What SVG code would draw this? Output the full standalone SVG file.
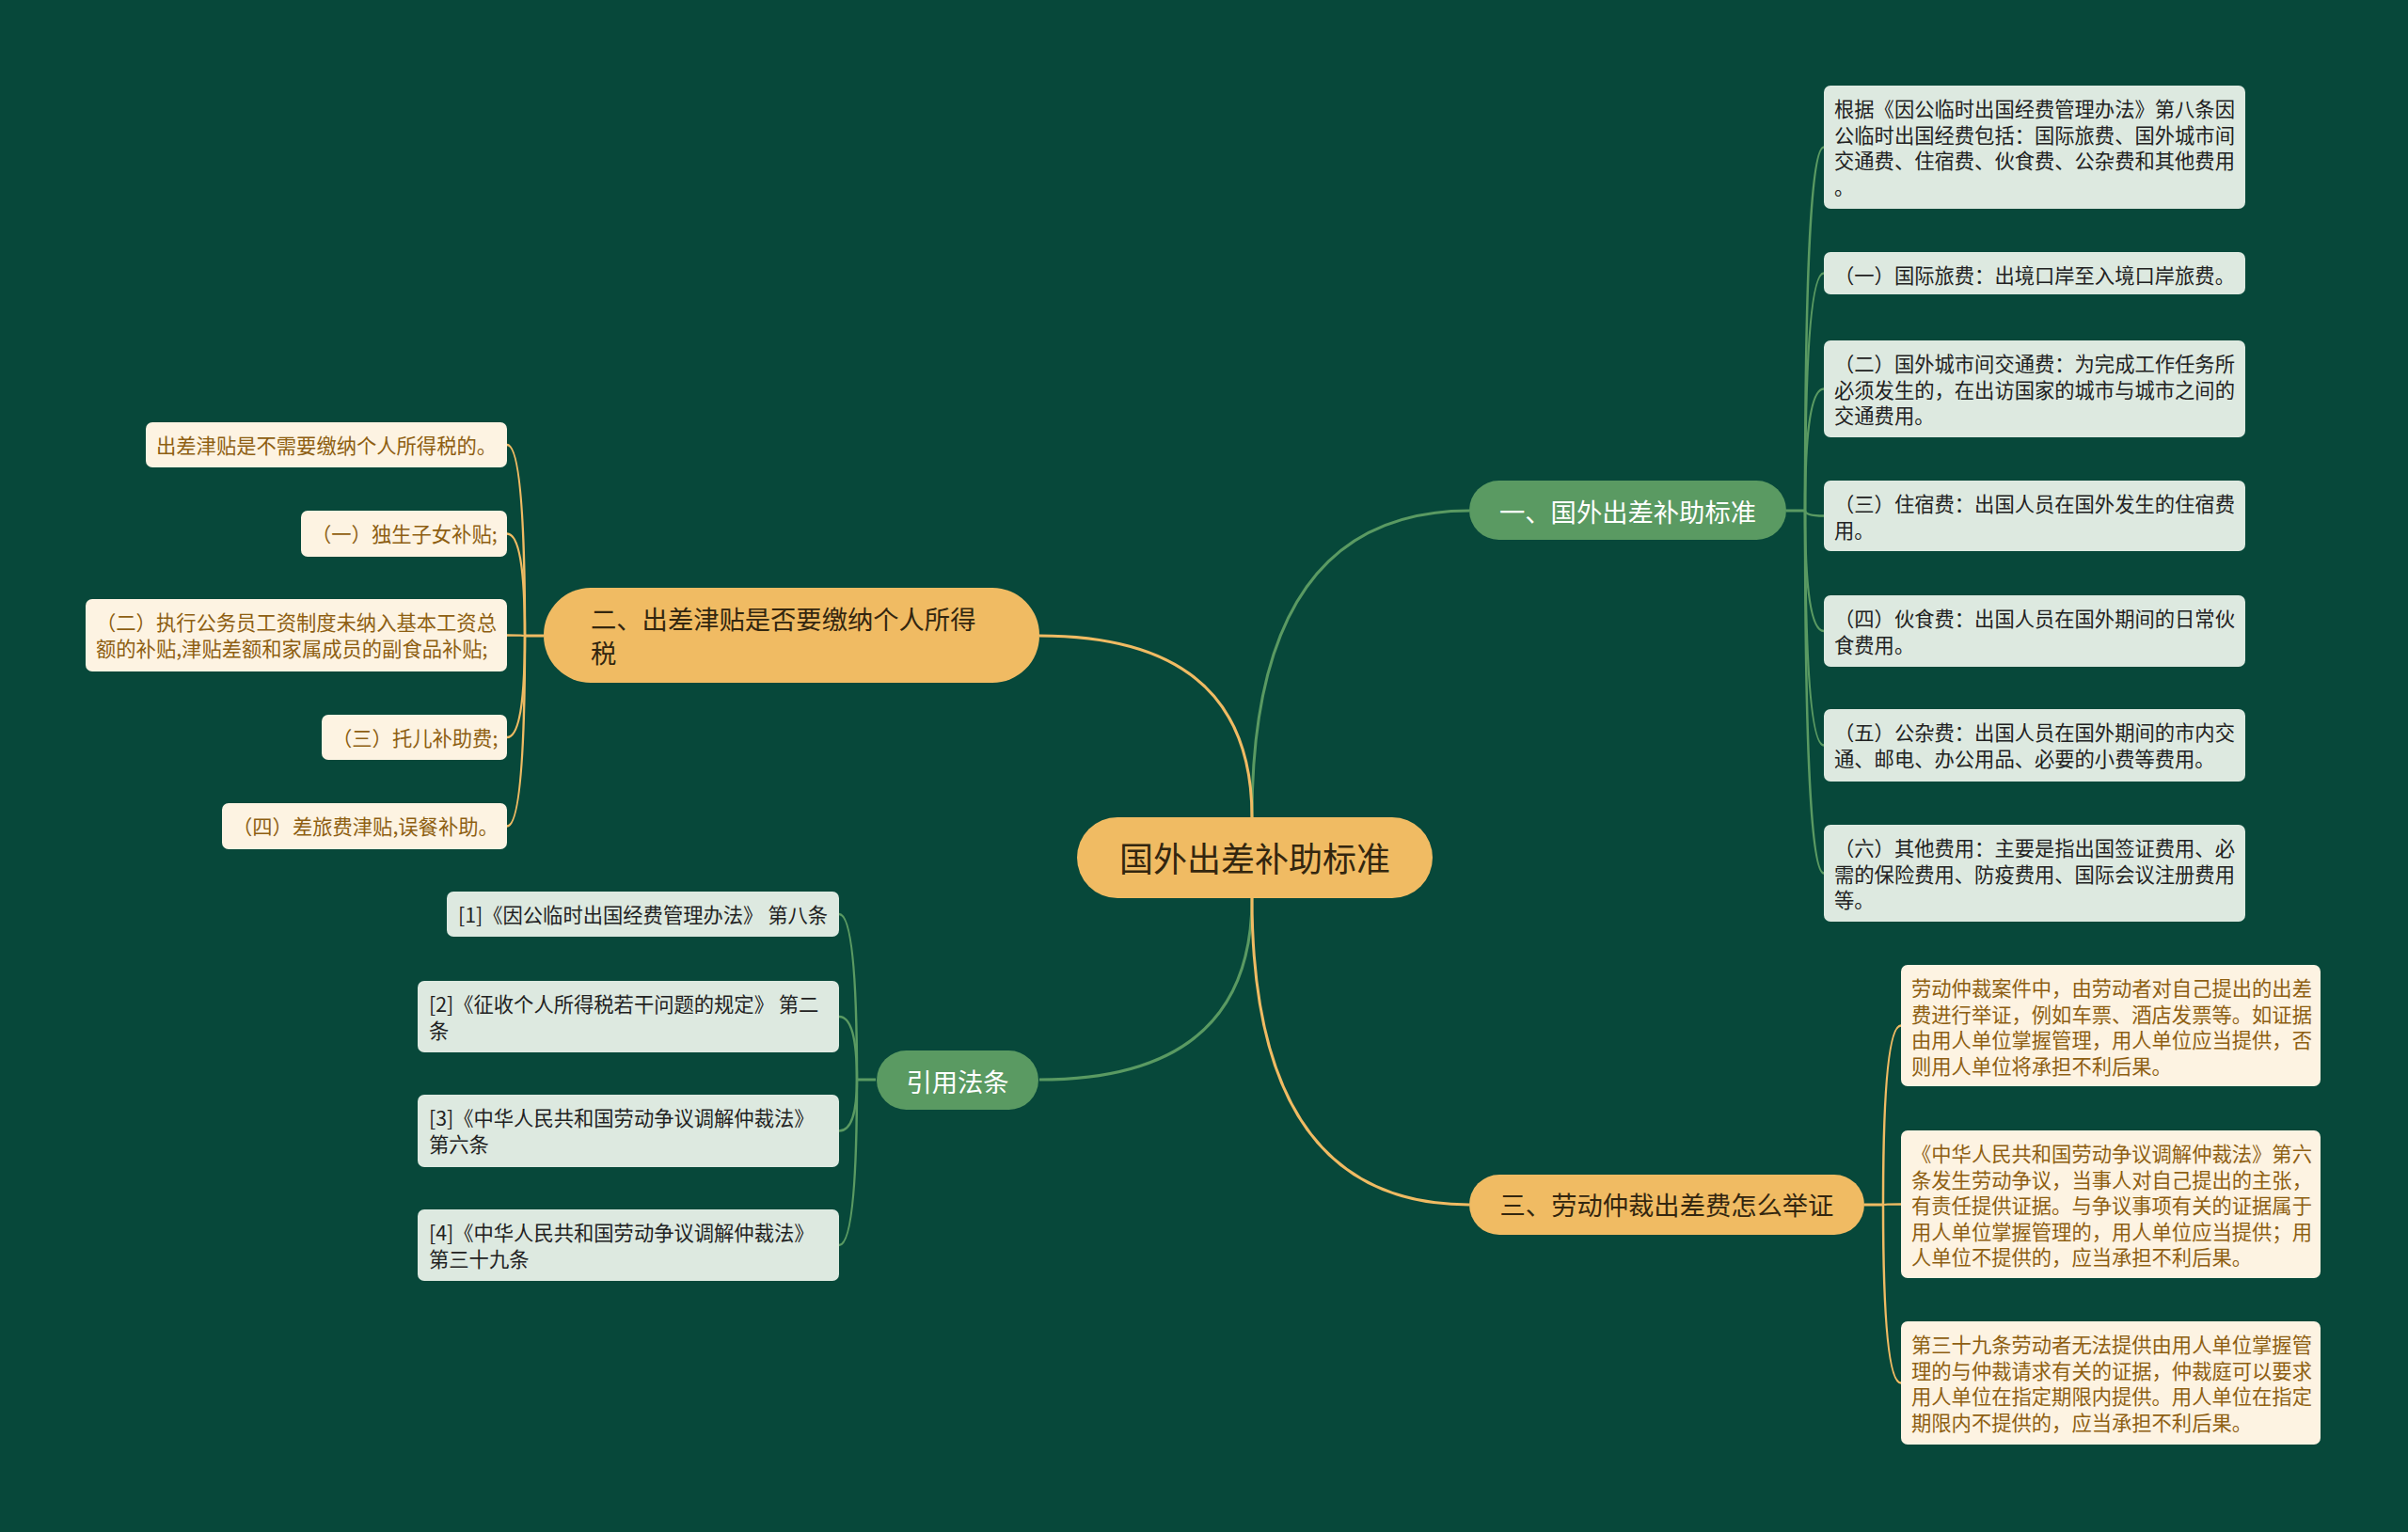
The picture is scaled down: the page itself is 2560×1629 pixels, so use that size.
<svg xmlns="http://www.w3.org/2000/svg" width="2560" height="1629" viewBox="0 0 2560 1629">
<style>
text{font-family:"Noto Sans CJK SC","Noto Sans",sans-serif;}
.cg{fill:none;stroke:#5a9a62;stroke-width:3;}
.cy{fill:none;stroke:#f0bb63;stroke-width:3;}
.lg{fill:none;stroke:#5a9a62;stroke-width:2.5;}
.ly{fill:none;stroke:#f0bb63;stroke-width:2.5;}
.bg{fill:#5a9a62;}
.by{fill:#f0bb63;}
.leafg{fill:#dde9e0;}
.leafy{fill:#fdf3e2;}
.tw{fill:#ffffff;font-size:27.3px;}
.td{fill:#33260f;font-size:27.3px;}
.tg{fill:#222222;font-size:21.3px;}
.ty{fill:#8e5f12;font-size:21.3px;}
</style>
<rect x="0" y="0" width="2560" height="1629" fill="#07483a"/>
<g id="connectors">
<path class="cg" d="M1331 869 Q1331 543 1562 543"/>
<path class="cy" d="M1331 869 Q1331 676 1105 676"/>
<path class="cg" d="M1331 955 Q1331 1148 1105 1148"/>
<path class="cy" d="M1331 955 Q1331 1281 1562 1281"/>
<path class="cg" d="M1899 543 H1919"/>
<path class="lg" d="M1919 543 Q1919 156.5 1939 156.5"/>
<path class="lg" d="M1919 543 Q1919 290.5 1939 290.5"/>
<path class="lg" d="M1919 543 Q1919 413.5 1939 413.5"/>
<path class="lg" d="M1919 543 Q1919 548.5 1939 548.5"/>
<path class="lg" d="M1919 543 Q1919 671 1939 671"/>
<path class="lg" d="M1919 543 Q1919 792.5 1939 792.5"/>
<path class="lg" d="M1919 543 Q1919 928.5 1939 928.5"/>
<path class="cy" d="M1982 1281 H2002"/>
<path class="ly" d="M2002 1281 Q2002 1090.5 2021 1090.5"/>
<path class="ly" d="M2002 1281 Q2002 1280.5 2021 1280.5"/>
<path class="ly" d="M2002 1281 Q2002 1470.5 2021 1470.5"/>
<path class="cy" d="M578 676 H558"/>
<path class="ly" d="M558 676 Q558 473 539 473"/>
<path class="ly" d="M558 676 Q558 567.5 539 567.5"/>
<path class="ly" d="M558 676 Q558 675.5 539 675.5"/>
<path class="ly" d="M558 676 Q558 784 539 784"/>
<path class="ly" d="M558 676 Q558 878.5 539 878.5"/>
<path class="cg" d="M931 1148 H911"/>
<path class="lg" d="M911 1148 Q911 972 892 972"/>
<path class="lg" d="M911 1148 Q911 1081 892 1081"/>
<path class="lg" d="M911 1148 Q911 1202.5 892 1202.5"/>
<path class="lg" d="M911 1148 Q911 1324 892 1324"/>
</g>
<g id="center">
<rect class="by" x="1145" y="869" width="378" height="86" rx="43"/>
<text x="1334" y="927" text-anchor="middle" style="font-size:36px;fill:#33260f">国外出差补助标准</text>
</g>
<g id="branch1">
<rect class="bg" x="1562" y="511" width="337" height="63" rx="31.5"/>
<text class="tw" x="1730.5" y="555" text-anchor="middle">一、国外出差补助标准</text>
</g>
<g id="branch2">
<rect class="by" x="578" y="625" width="527" height="101" rx="50"/>
<text class="td" x="628" y="669">二、出差津贴是否要缴纳个人所得</text>
<text class="td" x="628" y="705">税</text>
</g>
<g id="branch3">
<rect class="by" x="1562" y="1249" width="420" height="64" rx="32"/>
<text class="td" x="1772" y="1292" text-anchor="middle">三、劳动仲裁出差费怎么举证</text>
</g>
<g id="branch4">
<rect class="bg" x="932" y="1117" width="172" height="63" rx="31.5"/>
<text class="tw" x="1018" y="1161" text-anchor="middle">引用法条</text>
</g>
<g id="g1">
<rect class="leafg" x="1939" y="91" width="448" height="131" rx="7"/>
<text class="tg" x="1950" y="124">根据《因公临时出国经费管理办法》第八条因</text>
<text class="tg" x="1950" y="151.5">公临时出国经费包括：国际旅费、国外城市间</text>
<text class="tg" x="1950" y="179">交通费、住宿费、伙食费、公杂费和其他费用</text>
<text class="tg" x="1950" y="206.5">。</text>
</g>
<g id="g2">
<rect class="leafg" x="1939" y="268" width="448" height="45" rx="7"/>
<text class="tg" x="1950" y="301">（一）国际旅费：出境口岸至入境口岸旅费。</text>
</g>
<g id="g3">
<rect class="leafg" x="1939" y="362" width="448" height="103" rx="7"/>
<text class="tg" x="1950" y="395">（二）国外城市间交通费：为完成工作任务所</text>
<text class="tg" x="1950" y="422.5">必须发生的，在出访国家的城市与城市之间的</text>
<text class="tg" x="1950" y="450">交通费用。</text>
</g>
<g id="g4">
<rect class="leafg" x="1939" y="511" width="448" height="75" rx="7"/>
<text class="tg" x="1950" y="544">（三）住宿费：出国人员在国外发生的住宿费</text>
<text class="tg" x="1950" y="571.5">用。</text>
</g>
<g id="g5">
<rect class="leafg" x="1939" y="633" width="448" height="76" rx="7"/>
<text class="tg" x="1950" y="666">（四）伙食费：出国人员在国外期间的日常伙</text>
<text class="tg" x="1950" y="693.5">食费用。</text>
</g>
<g id="g6">
<rect class="leafg" x="1939" y="754" width="448" height="77" rx="7"/>
<text class="tg" x="1950" y="787">（五）公杂费：出国人员在国外期间的市内交</text>
<text class="tg" x="1950" y="814.5">通、邮电、办公用品、必要的小费等费用。</text>
</g>
<g id="g7">
<rect class="leafg" x="1939" y="877" width="448" height="103" rx="7"/>
<text class="tg" x="1950" y="910">（六）其他费用：主要是指出国签证费用、必</text>
<text class="tg" x="1950" y="937.5">需的保险费用、防疫费用、国际会议注册费用</text>
<text class="tg" x="1950" y="965">等。</text>
</g>
<g id="y1">
<rect class="leafy" x="2021" y="1026" width="446" height="129" rx="7"/>
<text class="ty" x="2032" y="1059">劳动仲裁案件中，由劳动者对自己提出的出差</text>
<text class="ty" x="2032" y="1086.5">费进行举证，例如车票、酒店发票等。如证据</text>
<text class="ty" x="2032" y="1114">由用人单位掌握管理，用人单位应当提供，否</text>
<text class="ty" x="2032" y="1141.5">则用人单位将承担不利后果。</text>
</g>
<g id="y2">
<rect class="leafy" x="2021" y="1202" width="446" height="157" rx="7"/>
<text class="ty" x="2032" y="1235">《中华人民共和国劳动争议调解仲裁法》第六</text>
<text class="ty" x="2032" y="1262.5">条发生劳动争议，当事人对自己提出的主张，</text>
<text class="ty" x="2032" y="1290">有责任提供证据。与争议事项有关的证据属于</text>
<text class="ty" x="2032" y="1317.5">用人单位掌握管理的，用人单位应当提供；用</text>
<text class="ty" x="2032" y="1345">人单位不提供的，应当承担不利后果。</text>
</g>
<g id="y3">
<rect class="leafy" x="2021" y="1405" width="446" height="131" rx="7"/>
<text class="ty" x="2032" y="1438">第三十九条劳动者无法提供由用人单位掌握管</text>
<text class="ty" x="2032" y="1465.5">理的与仲裁请求有关的证据，仲裁庭可以要求</text>
<text class="ty" x="2032" y="1493">用人单位在指定期限内提供。用人单位在指定</text>
<text class="ty" x="2032" y="1520.5">期限内不提供的，应当承担不利后果。</text>
</g>
<g id="l1">
<rect class="leafy" x="155" y="449" width="384" height="48" rx="7"/>
<text class="ty" x="166" y="482">出差津贴是不需要缴纳个人所得税的。</text>
</g>
<g id="l2">
<rect class="leafy" x="320" y="543" width="219" height="49" rx="7"/>
<text class="ty" x="331" y="576">（一）独生子女补贴;</text>
</g>
<g id="l3">
<rect class="leafy" x="91" y="637" width="448" height="77" rx="7"/>
<text class="ty" x="102" y="670">（二）执行公务员工资制度未纳入基本工资总</text>
<text class="ty" x="102" y="697.5">额的补贴,津贴差额和家属成员的副食品补贴;</text>
</g>
<g id="l4">
<rect class="leafy" x="342" y="760" width="197" height="48" rx="7"/>
<text class="ty" x="353" y="793">（三）托儿补助费;</text>
</g>
<g id="l5">
<rect class="leafy" x="236" y="854" width="303" height="49" rx="7"/>
<text class="ty" x="247" y="887">（四）差旅费津贴,误餐补助。</text>
</g>
<g id="r1">
<rect class="leafg" x="475" y="948" width="417" height="48" rx="7"/>
<text class="tg" x="487" y="981">[1]《因公临时出国经费管理办法》 第八条</text>
</g>
<g id="r2">
<rect class="leafg" x="444" y="1043" width="448" height="76" rx="7"/>
<text class="tg" x="456" y="1076">[2]《征收个人所得税若干问题的规定》 第二</text>
<text class="tg" x="456" y="1103.5">条</text>
</g>
<g id="r3">
<rect class="leafg" x="444" y="1164" width="448" height="77" rx="7"/>
<text class="tg" x="456" y="1197">[3]《中华人民共和国劳动争议调解仲裁法》</text>
<text class="tg" x="456" y="1224.5">第六条</text>
</g>
<g id="r4">
<rect class="leafg" x="444" y="1286" width="448" height="76" rx="7"/>
<text class="tg" x="456" y="1319">[4]《中华人民共和国劳动争议调解仲裁法》</text>
<text class="tg" x="456" y="1346.5">第三十九条</text>
</g>
</svg>
